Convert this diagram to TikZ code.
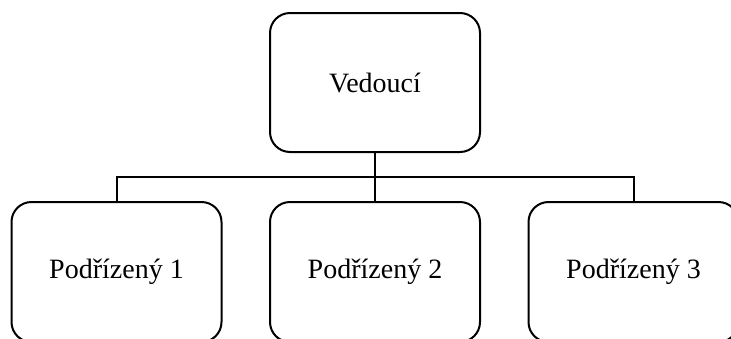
\documentclass[tikz,border=0pt]{standalone}
\usepackage{fontspec}
\setmainfont{Liberation Serif}
\tikzset{
	orgbox/.style={rectangle,draw,line width=2pt,rounded corners=20pt,
		minimum width=210pt,minimum height=139pt,inner sep=0,
		font=\fontsize{28}{34}\selectfont},
	orgline/.style={line width=2pt}
}
\begin{document}
\begin{tikzpicture}[x=1pt,y=-1pt]
	\useasboundingbox (0,0) rectangle (731,338);
	% Boss
	\node[orgbox] (boss) at (375,82.5) {Vedoucí};
	% Subordinates
	\foreach \i/\x in {1/116.5,2/375,3/633.5}
		\node[orgbox,minimum height=140pt] (sub\i) at (\x,272) {Podřízený \i};
	% Lines
	\coordinate (bus) at (375,177);
	\draw[orgline] (boss.south) -- (bus);
	\draw[orgline] (sub1.north) |- (bus) -| (sub3.north);
	\draw[orgline] (bus) -- (sub2.north);
\end{tikzpicture}
\end{document}
